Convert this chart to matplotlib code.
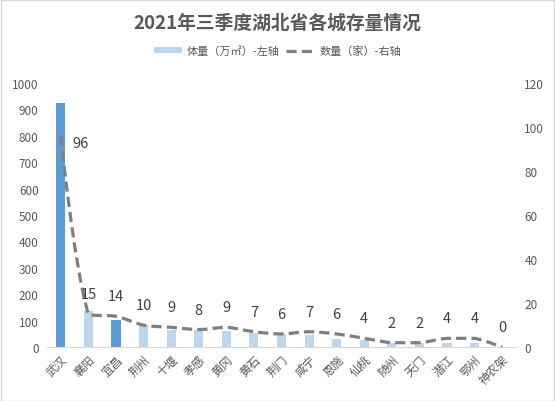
import matplotlib
matplotlib.use("Agg")
import matplotlib.pyplot as plt
from matplotlib.path import Path
from matplotlib.patches import PathPatch, Patch, Rectangle
from matplotlib.lines import Line2D
import numpy as np

plt.rcParams['font.family'] = ['Noto Sans CJK SC', 'DejaVu Sans']

cities = ['武汉', '襄阳', '宜昌', '荆州', '十堰', '孝感', '黄冈', '黄石', '荆门',
          '咸宁', '恩施', '仙桃', '随州', '天门', '潜江', '鄂州', '神农架']
volume = [924, 136, 102, 83, 64, 63, 61, 53, 48, 45, 30, 26, 16, 16, 16, 16, 1]
counts = [96, 15, 14, 10, 9, 8, 9, 7, 6, 7, 6, 4, 2, 2, 4, 4, 0]
highlight = ['武汉', '宜昌']

title = '2021年三季度湖北省各城存量情况'
bar_label = '体量（万㎡）-左轴'
line_label = '数量（家）-右轴'

DARK = '#5B9BD5'
LIGHT = '#BDD7EE'
GRAY = '#7F7F7F'
TXT = '#595959'
DASH = (0, (3.2, 1.6))

fig = plt.figure(figsize=(5.55, 4.02), dpi=100)
ax = fig.add_axes([0.0847, 0.134, 0.845, 0.657])
ax2 = ax.twinx()

x = np.arange(len(cities))
colors = [DARK if c in highlight else LIGHT for c in cities]
ax.bar(x, volume, width=0.33, color=colors, zorder=1)

ax.set_xlim(-0.5, len(cities) - 0.5)
ax.set_ylim(0, 1000)
ax.set_yticks(range(0, 1001, 100))
ax2.set_ylim(0, 120)
ax2.set_yticks(range(0, 121, 20))

# smoothed line: length-weighted bezier computed in display space
P = ax2.transData.transform(np.column_stack([x, counts]).astype(float))
n = len(P)
s = 0.3
cin = P.copy()
cout = P.copy()
for i in range(1, n - 1):
    T = P[i + 1] - P[i - 1]
    dl = np.linalg.norm(P[i] - P[i - 1])
    dr = np.linalg.norm(P[i + 1] - P[i])
    tot = dl + dr
    cin[i] = P[i] - T * s * dl / tot
    cout[i] = P[i] + T * s * dr / tot
    lo, hi = sorted([P[i][1], P[i - 1][1]])
    cin[i][1] = min(max(cin[i][1], lo), hi)
    lo, hi = sorted([P[i][1], P[i + 1][1]])
    cout[i][1] = min(max(cout[i][1], lo), hi)
verts = [P[0]]
codes = [Path.MOVETO]
for i in range(n - 1):
    verts += [cout[i], cin[i + 1], P[i + 1]]
    codes += [Path.CURVE4] * 3
verts = ax2.transData.inverted().transform(np.array(verts))
path = Path(verts, codes)
patch = PathPatch(path, facecolor='none', edgecolor=GRAY, lw=2.3,
                  linestyle=DASH, zorder=3, capstyle='butt')
ax2.add_patch(patch)

for i, v in enumerate(counts):
    off = (20, -7) if i == 0 else (0, 20)
    ax2.annotate(str(v), (x[i], v), xytext=off, textcoords='offset pixels',
                 ha='center', va='center', fontsize=10.5, color='#404040')

for a in (ax, ax2):
    for sp in a.spines.values():
        sp.set_visible(False)
    a.tick_params(length=0, colors=TXT, labelsize=8.5)
ax.spines['bottom'].set_visible(True)
ax.spines['bottom'].set_color('#D9D9D9')
ax.set_xticks(x)
ax.set_xticklabels(cities, rotation=45, ha='right', rotation_mode='anchor',
                   fontsize=8.5, color=TXT)
ax.tick_params(axis='x', pad=4)
ax.tick_params(axis='y', pad=6)
ax2.tick_params(axis='y', pad=6)

fig.text(0.5, 0.943, title, ha='center', va='center', fontsize=13.5,
         fontweight='bold', color=TXT)

handles = [Patch(facecolor=LIGHT, edgecolor='none'),
           Line2D([0], [0], color=GRAY, lw=2.3, linestyle=DASH)]
fig.legend(handles, [bar_label, line_label], loc='center',
           bbox_to_anchor=(0.5, 0.871), ncol=2, frameon=False,
           fontsize=8, handlelength=2.6, handleheight=0.5,
           columnspacing=0.6, handletextpad=0.4, labelcolor=TXT)

fig.patches.append(Rectangle((0.001, 0.001), 0.997, 0.997, transform=fig.transFigure,
                             fill=False, edgecolor='#D9D9D9', lw=1))

fig.savefig('out.png', dpi=100)
